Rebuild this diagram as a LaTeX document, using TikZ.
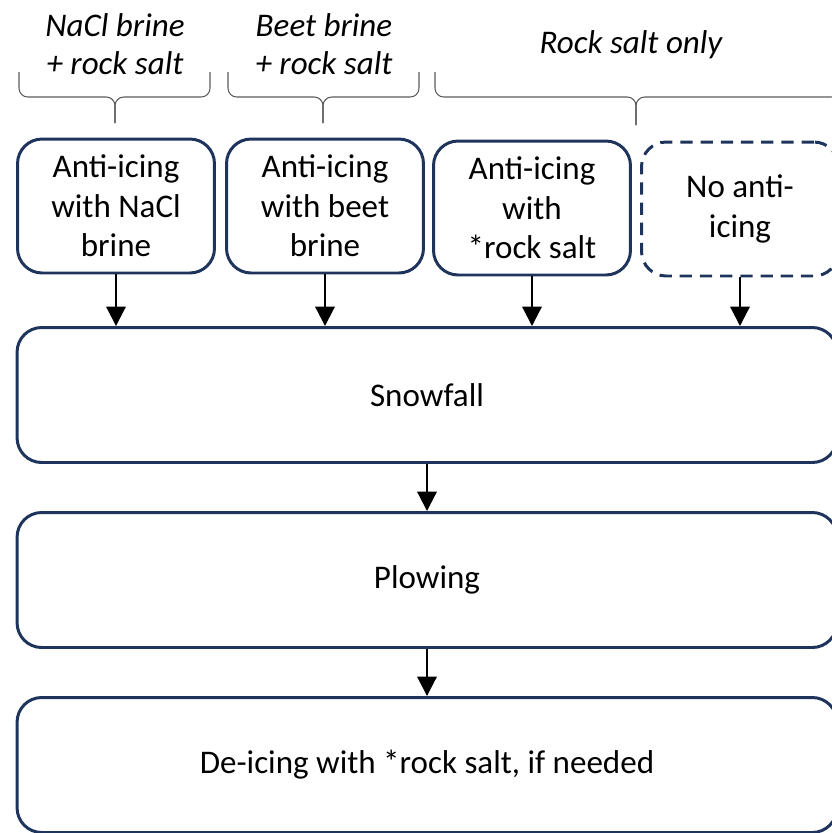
\documentclass[tikz,border=0pt]{standalone}
\usepackage{fontspec}
\setmainfont{Carlito}
\usetikzlibrary{arrows.meta}

\definecolor{boxblue}{RGB}{31,52,92}
\definecolor{bracegray}{RGB}{90,90,90}

\newcommand{\topbrace}[4]{%
  \draw [bracket] (#1,72) -- (#1,97) -- (#2,97) -- (#2,#4);
  \draw [bracket] (#3,72) -- (#3,97) -- (#2,97) -- (#2,#4);
}

\begin{document}
\begin{tikzpicture}[%
      x=0.02cm, y=-0.02cm,
      stepbox/.style={draw=boxblue, line width=1.7pt, rounded corners=14pt,
        minimum width=3.94cm, minimum height=2.68cm, align=center,
        font=\fontsize{18.8}{22.4}\selectfont},
      widebox/.style={stepbox, minimum width=16.4cm, minimum height=2.7cm},
      dashbox/.style={stepbox, dash pattern=on 7pt off 4.5pt},
      grouplabel/.style={align=center, font=\fontsize{18.8}{21.6}\selectfont\itshape},
      bracket/.style={color=bracegray, line width=0.6pt, rounded corners=5pt},
      flow/.style={color=black, line width=1.2pt, -{Triangle[width=11pt,length=11pt]}},
      ]
      \useasboundingbox (0,0) rectangle (832,833);
      \clip (0,0) rectangle (832,833);

      % group labels and braces
      \node [grouplabel] (lnacl) at (115,44) {NaCl brine\\+ rock salt};
      \node [grouplabel] (lbeet) at (324,44) {Beet brine\\+ rock salt};
      \node [grouplabel] (lrock) at (631,45) {Rock salt only};

      \topbrace{19}{115}{210}{123}
      \topbrace{228}{323}{419}{123}
      \topbrace{435}{636}{840}{125}

      % anti-icing options
      \node [stepbox] (nacl) at (116,206) {Anti-icing\\with NaCl\\brine};
      \node [stepbox] (beet) at (325,206) {Anti-icing\\with beet\\brine};
      \node [stepbox] (rock) at (532,208) {Anti-icing\\with\\*rock salt};
      \node [dashbox] (none) at (740,209) {No anti-\\icing};

      % common steps
      \node [widebox] (snow) at (427,395) {Snowfall};
      \node [widebox] (plow) at (427,580) {Plowing};
      \node [widebox] (deice) at (427,765) {De-icing with *rock salt, if needed};

      \draw [flow] (nacl) -- (nacl |- snow.north);
      \draw [flow] (beet) -- (beet |- snow.north);
      \draw [flow] (rock) -- (rock |- snow.north);
      \draw [flow] (none) -- (none |- snow.north);
      \draw [flow] (snow) -- (plow);
      \draw [flow] (plow) -- (deice);
      \end{tikzpicture}
\end{document}
